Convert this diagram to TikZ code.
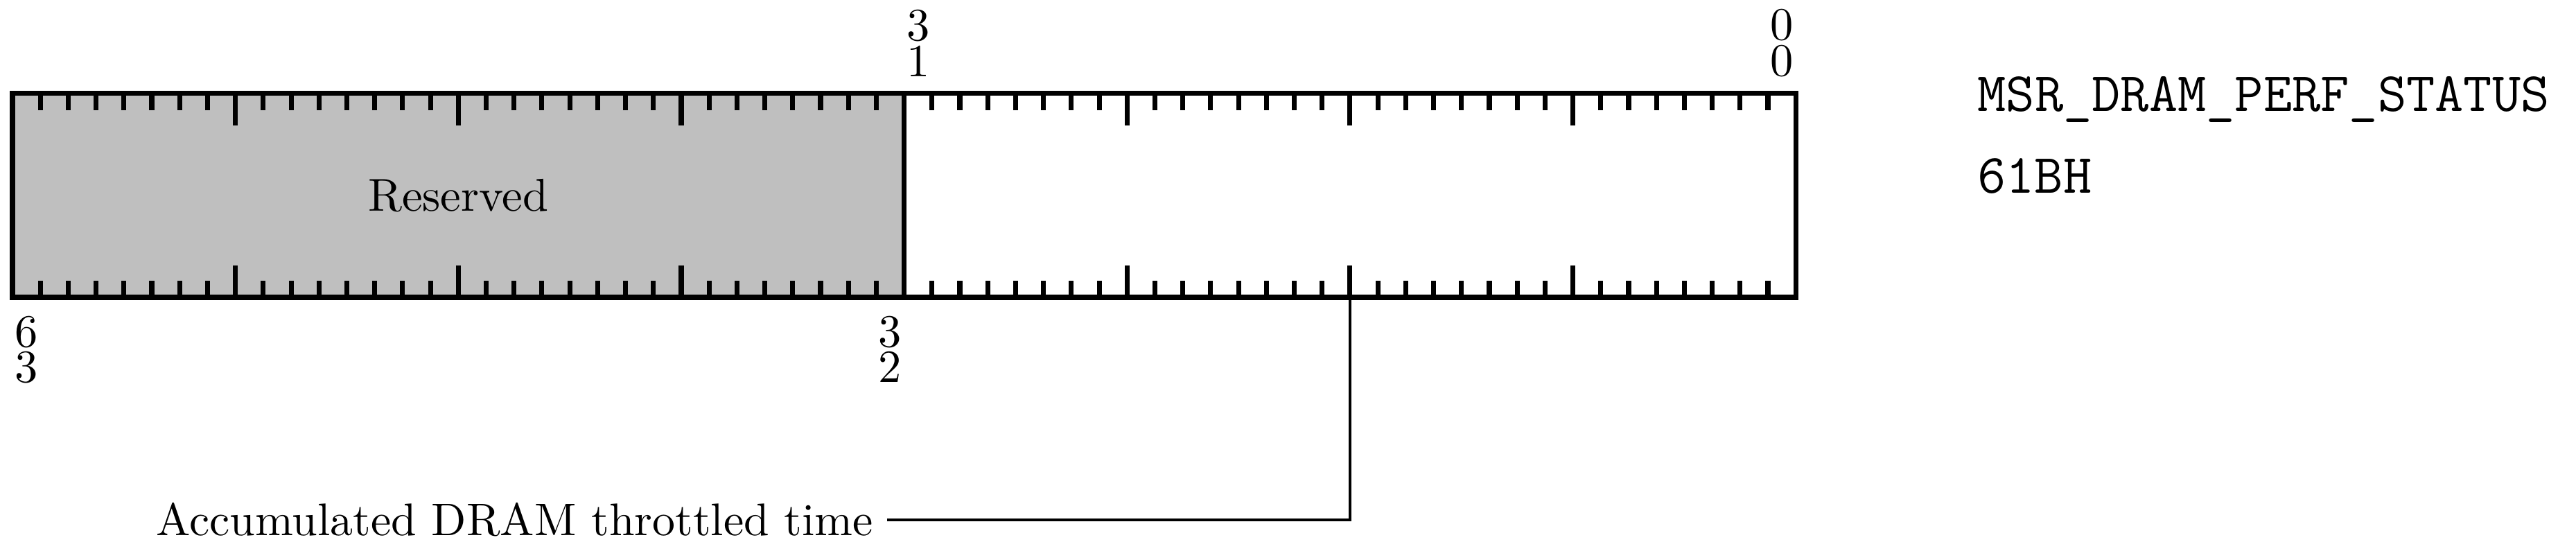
\documentclass[tikz,border=0pt]{standalone}

\def\bw{0.21875}

\begin{document}
\begin{tikzpicture}[
    font=\fontsize{10.3}{12}\selectfont,
    regline/.style={line width=1.1pt},
    minortick/.style={line width=1.1pt},
    bitnum/.style={inner sep=0pt, align=center, font=\fontsize{10.3}{8}\selectfont},
    regname/.style={anchor=base west, inner sep=0pt, font=\ttfamily\fontsize{12.4}{15}\selectfont},
    conn/.style={line width=0.6pt}
]
    \useasboundingbox (-0.098,-1.975) rectangle (20.125,2.334);

    % register fields
    \draw[regline, fill=black!25] (0,0) rectangle (32*\bw,1.6);
    \draw[regline] (32*\bw,0) rectangle (64*\bw,1.6);
    \node (rsvd) at (16*\bw,0.8) {Reserved};

    % bit ticks
    \foreach \i in {1,...,63} {
        \draw[minortick] (\i*\bw,0) -- ++(0,0.13);
        \draw[minortick] (\i*\bw,1.6) -- ++(0,-0.13);
    }
    \foreach \i in {8,16,24,40,48,56} {
        \draw[minortick] (\i*\bw,0) -- ++(0,0.25);
        \draw[minortick] (\i*\bw,1.6) -- ++(0,-0.25);
    }

    % bit numbers
    \node[bitnum, anchor=south] (b31) at (32.5*\bw,1.725) {3\\1};
    \node[bitnum, anchor=south] (b0) at (63.5*\bw,1.725) {0\\0};
    \node[bitnum, anchor=north] (b63) at (0.5*\bw,-0.14) {6\\3};
    \node[bitnum, anchor=north] (b32) at (31.5*\bw,-0.14) {3\\2};

    % register name and address
    \node[regname] (msr) at (15.42,1.458) {MSR\_DRAM\_PERF\_STATUS};
    \node[regname] (addr) at (15.42,0.816) {61BH};

    % field description
    \coordinate (tap) at (48*\bw,0);
    \node[anchor=east, inner sep=2.9pt, font=\fontsize{10.2}{12}\selectfont] (acc) at (6.866,-1.746) {Accumulated DRAM throttled time};
    \draw[conn] (acc.east) -| (tap);
\end{tikzpicture}
\end{document}
